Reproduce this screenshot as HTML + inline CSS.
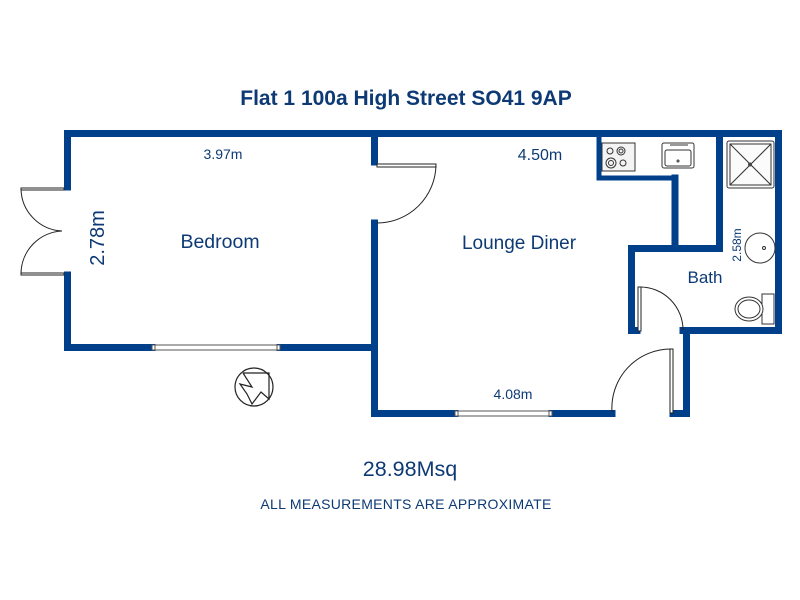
<!DOCTYPE html>
<html><head><meta charset="utf-8"><style>
html,body{margin:0;padding:0;background:#fff;}
svg{display:block;}
text{font-family:"Liberation Sans",Arial,sans-serif;fill:#0d3a75;}
</style></head><body>
<svg width="800" height="600" viewBox="0 0 800 600" xmlns="http://www.w3.org/2000/svg">
<rect width="800" height="600" fill="#fff"/>
<text x="406" y="105" text-anchor="middle" font-size="21" font-weight="bold" fill="#0d3a75">Flat 1 100a High Street SO41 9AP</text>

<g stroke="#003f8a" stroke-width="7" fill="none" stroke-linecap="square" stroke-linejoin="miter">
  <polyline points="67.5,187 67.5,133.5 778.5,133.5 778.5,330.5 683,330.5"/>
  <polyline points="67.5,275 67.5,347.5 152,347.5"/>
  <line x1="280" y1="347.5" x2="374.5" y2="347.5"/>
  <line x1="374.5" y1="133.5" x2="374.5" y2="162"/>
  <polyline points="374.5,223 374.5,413.5 455,413.5"/>
  <line x1="552" y1="413.5" x2="612" y2="413.5"/>
  <polyline points="673,413.5 686.5,413.5 686.5,334"/>
  <polyline points="637,330.5 631.5,330.5 631.5,248.5 719.5,248.5 719.5,133.5"/>
  <line x1="675" y1="248.5" x2="675" y2="178"/>
</g>
<g stroke="#003f8a" stroke-width="5" fill="none">
  <polyline points="599,134 599,178 675,178"/>
</g>

<g fill="#fff" stroke="#555" stroke-width="1">
  <rect x="152" y="345" width="128" height="5"/>
  <rect x="455" y="411" width="97" height="5"/>
</g>
<g stroke="#555" stroke-width="1"><line x1="155" y1="345" x2="155" y2="350"/><line x1="277" y1="345" x2="277" y2="350"/><line x1="458" y1="411" x2="458" y2="416"/><line x1="549" y1="411" x2="549" y2="416"/></g>

<g fill="none" stroke="#222" stroke-width="1">
  <rect x="21" y="188" width="43" height="2" fill="#fff"/>
  <rect x="21" y="273" width="43" height="2" fill="#fff"/>
  <path d="M21,189 A43,43 0 0 0 62,231"/>
  <path d="M21,274 A43,43 0 0 1 62,231"/>
  <rect x="377" y="164" width="59" height="3" fill="#fff"/>
  <path d="M436,165 A59,59 0 0 1 377,223"/>
  <rect x="638" y="287" width="3" height="44" fill="#fff"/>
  <path d="M640,287 A43,43 0 0 1 683,330"/>
  <rect x="670" y="349" width="3" height="64" fill="#fff"/>
  <path d="M671,349 A59,59 0 0 0 612,412"/>
</g>

<g stroke="#333" fill="none" stroke-width="1">
  <rect x="602" y="143" width="33" height="28" fill="#f4f4f4"/>
  <circle cx="610" cy="151" r="3"/><circle cx="621" cy="151" r="4"/><circle cx="621" cy="151" r="2"/>
  <circle cx="611" cy="163" r="5"/><circle cx="611" cy="163" r="2.5"/><circle cx="623" cy="163" r="3"/>
  <rect x="662" y="143" width="32" height="25" rx="2"/>
  <rect x="665" y="150" width="26" height="16" rx="2"/>
  <line x1="670" y1="145" x2="688" y2="145"/>
  <circle cx="678" cy="161" r="1"/>
  <rect x="727" y="141" width="47" height="47" rx="2" fill="#fbfbfb"/>
  <rect x="730" y="144" width="41" height="41"/>
  <line x1="730" y1="144" x2="771" y2="185"/><line x1="771" y1="144" x2="730" y2="185"/>
  <circle cx="760" cy="248" r="15" fill="#fff"/>
  <circle cx="764" cy="248" r="1.5"/>
  <rect x="762" y="294" width="12" height="30" fill="#fff"/>
  <ellipse cx="749" cy="309" rx="14" ry="12" fill="#fff"/>
  <ellipse cx="749" cy="309" rx="11" ry="9"/>
</g>
<circle cx="750" cy="164.5" r="2" fill="#444"/>

<g stroke="#222" fill="#fff" stroke-width="1.2">
  <circle cx="254" cy="387" r="19"/>
  <polyline points="243,373 269,373 269,399 261,392 252,404 247,394 240,384 252,387 243,373" fill="none"/>
</g>

<text x="223" y="159" text-anchor="middle" font-size="14">3.97m</text>
<text x="540" y="160" text-anchor="middle" font-size="16">4.50m</text>
<text x="104" y="238" text-anchor="middle" font-size="20" transform="rotate(-90 104 238)">2.78m</text>
<text x="220" y="248" text-anchor="middle" font-size="19.5">Bedroom</text>
<text x="519" y="249" text-anchor="middle" font-size="19">Lounge Diner</text>
<text x="705" y="283" text-anchor="middle" font-size="17">Bath</text>
<text x="741" y="245" text-anchor="middle" font-size="12" transform="rotate(-90 741 245)">2.58m</text>
<text x="513" y="399" text-anchor="middle" font-size="14">4.08m</text>
<text x="410" y="476" text-anchor="middle" font-size="21.5">28.98Msq</text>
<text x="406" y="509" text-anchor="middle" font-size="14" letter-spacing="0.3">ALL MEASUREMENTS ARE APPROXIMATE</text>
</svg>
</body></html>
